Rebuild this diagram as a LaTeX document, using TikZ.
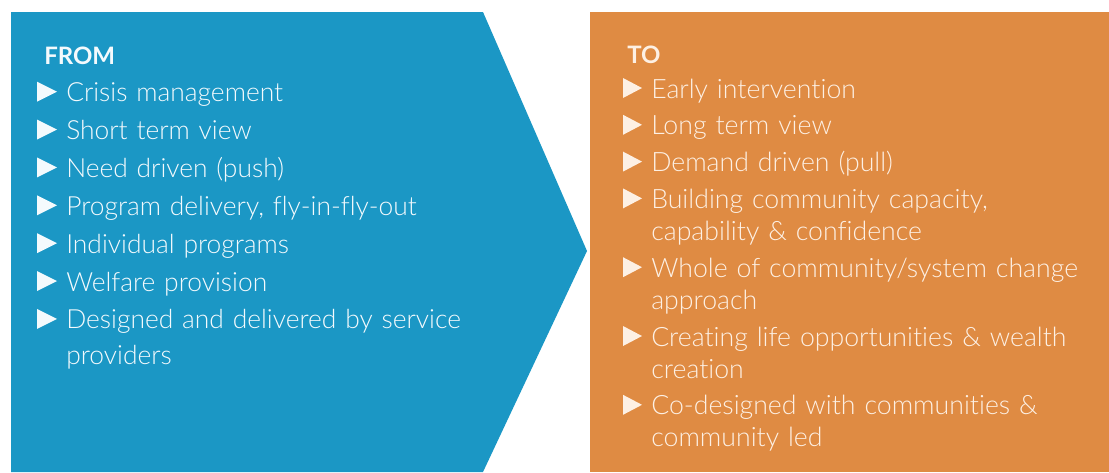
\documentclass[tikz,border=0pt]{standalone}
\usepackage{fontspec}
\setmainfont{Lato}[UprightFont=* Light,BoldFont=* Bold,Ligatures=NoCommon]
\usetikzlibrary{positioning}

\definecolor{fromblue}{HTML}{1B97C5}
\definecolor{toorange}{HTML}{DF8B43}
\definecolor{fromtxt}{HTML}{F4FAFD}
\definecolor{totxt}{HTML}{FDF0E4}

\tikzset{
  head/.style={anchor=base west,inner sep=0pt,
               font=\bfseries\fontsize{18}{18}\selectfont},
  item/.style={anchor=base west,inner sep=0pt,align=left,
               execute at begin node=\strut,execute at end node=\strut},
  fromitem/.style={item,text=fromtxt,text width=330pt,node distance=1pt,
                   font=\fontsize{19.8}{27}\selectfont},
  toitem/.style={item,text=totxt,text width=360pt,node distance=3.2pt,
                 font=\fontsize{20}{24}\selectfont}
}

\begin{document}
\begin{tikzpicture}[x=.75pt,y=-.75pt]
  \useasboundingbox (0,0) rectangle (1109,472);

  % the two panels
  \fill[fromblue] (11,12) -- (483,12) -- (587,251) -- (483,472) -- (11,472) -- cycle;
  \fill[toorange] (590,12) rectangle (1109,472);

  % FROM column
  \node[head,text=fromtxt]  (from)           at (44,64)    {FROM};
  \node[fromitem]           (f1)             at (66,101.7) {Crisis management};
  \node[fromitem]           (f2) [below=of f1] {Short term view};
  \node[fromitem]           (f3) [below=of f2] {Need driven (push)};
  \node[fromitem]           (f4) [below=of f3] {Program delivery, fly-in-fly-out};
  \node[fromitem]           (f5) [below=of f4] {Individual programs};
  \node[fromitem]           (f6) [below=of f5] {Welfare provision};
  \node[fromitem]           (f7) [below=of f6] {Designed and delivered by service\\providers};

  % TO column
  \node[head,text=totxt]    (to)             at (627,63)   {TO};
  \node[toitem]             (t1)             at (651,98)   {Early intervention};
  \node[toitem]             (t2) [below=of t1] {Long term view};
  \node[toitem]             (t3) [below=of t2] {Demand driven (pull)};
  \node[toitem]             (t4) [below=of t3] {Building community capacity,\\capability \& confidence};
  \node[toitem]             (t5) [below=of t4] {Whole of community/system change\\approach};
  \node[toitem]             (t6) [below=of t5] {Creating life opportunities \& wealth\\creation};
  \node[toitem]             (t7) [below=of t6] {Co-designed with communities \&\\community led};

  % bullets
  \foreach \i in {1,...,7} {
    \fill[fromtxt] ([xshift=-21.75pt]f\i.base west) -- ++(0,-20) -- ++(20,10) -- cycle;
    \fill[totxt]   ([xshift=-21pt]t\i.base west)    -- ++(0,-20) -- ++(19,10) -- cycle;
  }
\end{tikzpicture}
\end{document}
